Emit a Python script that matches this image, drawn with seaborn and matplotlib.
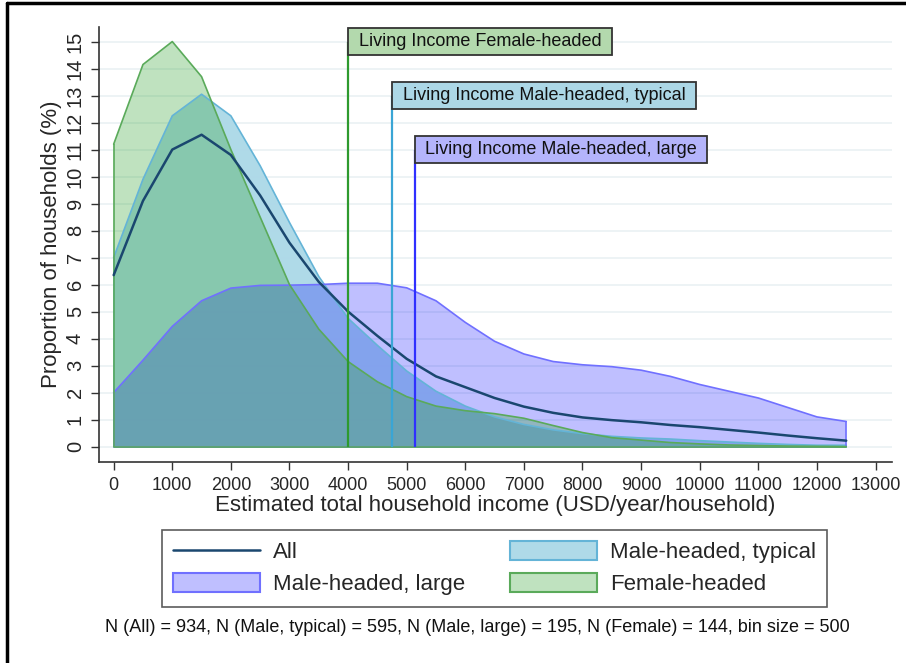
import numpy as np
import pandas as pd
import matplotlib
matplotlib.use('Agg')
import matplotlib.pyplot as plt
from matplotlib.patches import Patch
from matplotlib.lines import Line2D
import seaborn as sns

# income bins (bin size = 500)
bins = [0, 500, 1000, 1500, 2000, 2500, 3000, 3500, 4000, 4500, 5000, 5500, 6000,
        6500, 7000, 7500, 8000, 8500, 9000, 9500, 10000, 10500, 11000, 11500, 12000, 12500]

# proportion of households (%) per bin
all_hh = [6.35, 9.1, 11.0, 11.55, 10.8, 9.3, 7.55, 6.1, 5.0, 4.1, 3.25, 2.6, 2.2,
          1.8, 1.48, 1.25, 1.08, 0.98, 0.9, 0.8, 0.72, 0.62, 0.52, 0.41, 0.31, 0.22]
male_typical = [7.0, 9.9, 12.25, 13.05, 12.25, 10.4, 8.3, 6.3, 4.75, 3.75, 2.8, 2.05, 1.5,
                1.1, 0.82, 0.62, 0.48, 0.38, 0.32, 0.28, 0.22, 0.17, 0.12, 0.08, 0.05, 0.05]
male_large = [2.0, 3.2, 4.45, 5.4, 5.87, 5.97, 5.98, 6.0, 6.05, 6.05, 5.88, 5.4, 4.6,
              3.9, 3.43, 3.15, 3.03, 2.96, 2.83, 2.6, 2.3, 2.05, 1.8, 1.45, 1.1, 0.93]
female = [11.2, 14.15, 15.0, 13.7, 11.0, 8.5, 6.0, 4.35, 3.15, 2.4, 1.85, 1.5, 1.33,
          1.22, 1.05, 0.78, 0.52, 0.33, 0.24, 0.15, 0.1, 0.06, 0.04, 0.02, 0.01, 0.0]

# living income benchmarks
li_labels = ['Living Income Female-headed', 'Living Income Male-headed, typical',
             'Living Income Male-headed, large']
li_values = [4000, 4750, 5135]
li_label_y = [15, 13, 11]

footnote = ('N (All) = 934, N (Male, typical) = 595, N (Male, large) = 195, '
            'N (Female) = 144, bin size = 500')

df = pd.DataFrame({'income': bins * 4,
                   'pct': all_hh + male_typical + male_large + female,
                   'group': (['All'] * len(bins) + ['Male-headed, typical'] * len(bins)
                             + ['Male-headed, large'] * len(bins) + ['Female-headed'] * len(bins))})

sns.set_style('white')
plt.rcParams['font.family'] = ['Liberation Sans', 'DejaVu Sans']

navy = '#1a476f'
fills = {'Male-headed, typical': ((0.68, 0.85, 0.91, 0.97), '#64b4d7'),
         'Male-headed, large': ((0.0, 0.0, 1.0, 0.25), '#7070ff'),
         'Female-headed': ((0.17, 0.63, 0.17, 0.30), '#5aaa5a')}
line_cols = ['#2e9a2e', '#3aa5d5', '#3030ff']
box_cols = ['#b3d9ad', '#acd7e6', '#b4b4fb']

fig = plt.figure(figsize=(9.06, 6.63), dpi=100)
ax = fig.add_axes([0.1089, 0.3036, 0.8753, 0.6557])

for y in range(0, 16):
    ax.axhline(y, color='#eaf1f3', lw=1.2, zorder=0)

for grp, (fc, ec) in fills.items():
    sub = df[df['group'] == grp]
    ax.fill_between(sub['income'], 0, sub['pct'], facecolor=fc, edgecolor='none', zorder=1)
    sns.lineplot(data=sub, x='income', y='pct', color=ec, lw=1.2, ax=ax, zorder=2)
    ax.vlines([sub['income'].iloc[0], sub['income'].iloc[-1]], 0,
              [sub['pct'].iloc[0], sub['pct'].iloc[-1]], color=ec, lw=1.2, zorder=2)
    ax.plot([sub['income'].iloc[0], sub['income'].iloc[-1]], [0, 0], color=ec, lw=1.2, zorder=2)

sns.lineplot(data=df[df['group'] == 'All'], x='income', y='pct', color=navy, lw=1.8, ax=ax, zorder=4)

for lab, xv, yv, lc, bc in zip(li_labels, li_values, li_label_y, line_cols, box_cols):
    ax.vlines(xv, 0, yv, color=lc, lw=1.6, zorder=5)
    ax.annotate(' ' + lab + ' ', xy=(xv, yv), xytext=(4, 0), textcoords='offset points',
                ha='left', va='center', fontsize=13, color='#111111', zorder=6,
                bbox=dict(boxstyle='square,pad=0.3', fc=bc, ec='#333333', lw=1.3))

ax.set_xlim(-256, 13276)
ax.set_ylim(-0.56, 15.54)
ax.set_xticks(range(0, 13001, 1000))
ax.set_yticks(range(0, 16))
ax.tick_params(axis='both', direction='out', length=6, width=1, color='#333333',
               pad=5, bottom=True, left=True)
ax.tick_params(axis='x', labelsize=13)
ax.tick_params(axis='y', labelsize=14.5, labelrotation=90, pad=4)
for t in ax.get_yticklabels():
    t.set_va('center')
ax.set_xlabel('Estimated total household income (USD/year/household)', fontsize=16, labelpad=1)
ax.set_ylabel('Proportion of households (%)', fontsize=16, labelpad=3)
for s in ['top', 'right']:
    ax.spines[s].set_visible(False)
for s in ['left', 'bottom']:
    ax.spines[s].set_color('#333333')
    ax.spines[s].set_linewidth(1.2)

handles = [Line2D([], [], color=navy, lw=1.8),
           Patch(facecolor=fills['Male-headed, large'][0], edgecolor=fills['Male-headed, large'][1], lw=1.5),
           Patch(facecolor=fills['Male-headed, typical'][0], edgecolor=fills['Male-headed, typical'][1], lw=1.5),
           Patch(facecolor=fills['Female-headed'][0], edgecolor=fills['Female-headed'][1], lw=1.5)]
labels = ['All', 'Male-headed, large', 'Male-headed, typical', 'Female-headed']
leg = fig.legend(handles, labels, loc='center', bbox_to_anchor=(0.546, 0.143), ncol=2,
                 fontsize=16, frameon=True, fancybox=False, edgecolor='#333333',
                 handlelength=3.9, handleheight=0.95, handletextpad=0.6, columnspacing=2.0,
                 labelspacing=0.45, borderpad=0.5)
leg.get_frame().set_linewidth(1.2)

fig.text(0.527, 0.054, footnote, ha='center', va='center', fontsize=13, color='#111111')

# outer frame (top and left edges visible in the reference)
fig.add_artist(Line2D([0.008, 0.008], [0, 0.996], color='black', lw=2.5, transform=fig.transFigure))
fig.add_artist(Line2D([0.008, 1], [0.996, 0.996], color='black', lw=2.5, transform=fig.transFigure))

fig.savefig('out.png', dpi=100)
